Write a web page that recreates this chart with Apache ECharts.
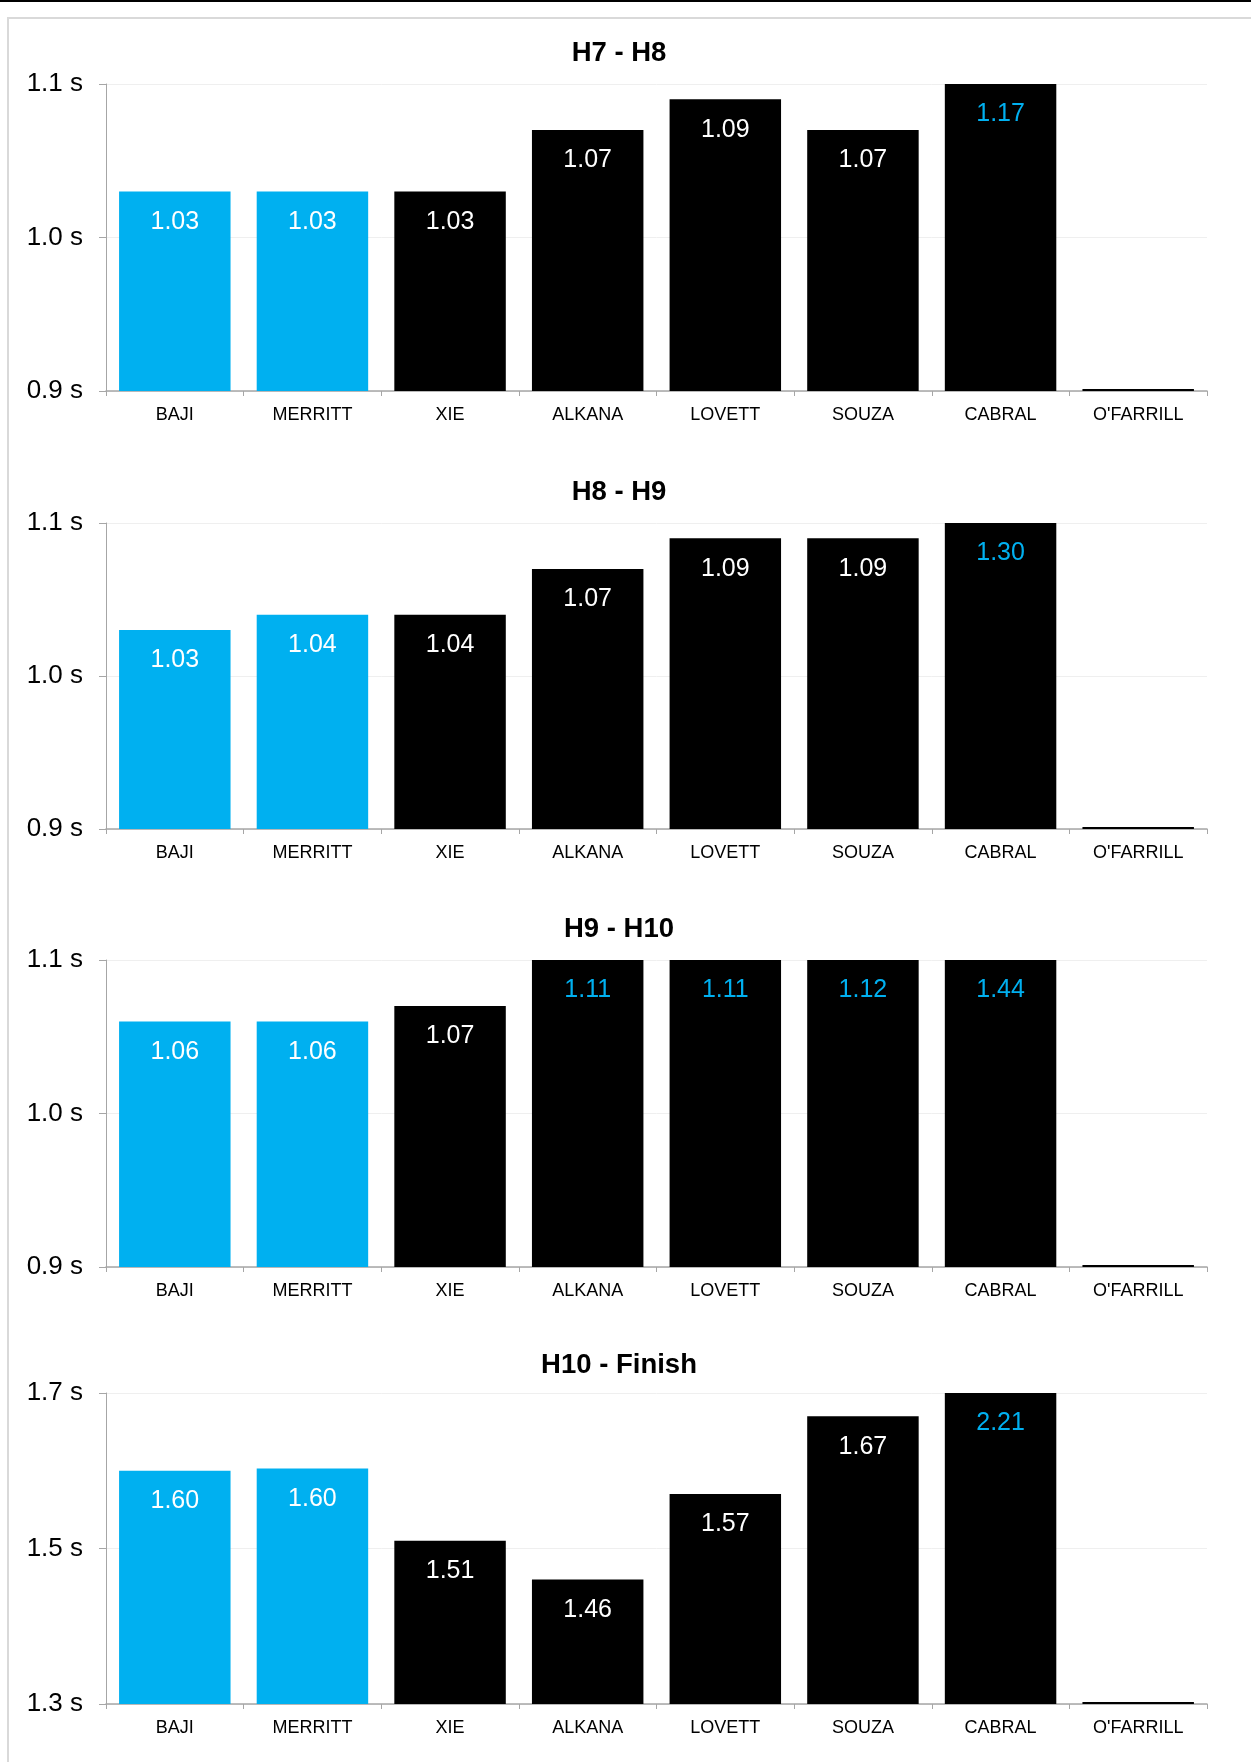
<!DOCTYPE html>
<html>
<head>
<meta charset="utf-8">
<title>Hurdle splits</title>
<script src="https://cdn.jsdelivr.net/npm/echarts@6/dist/echarts.min.js"></script>
<style>
  html, body { margin: 0; padding: 0; background: #fff; }
  #chart { width: 1251px; height: 1762px; }
</style>
</head>
<body>
<div id="chart"></div>
<script>
var athletes = ['BAJI', 'MERRITT', 'XIE', 'ALKANA', 'LOVETT', 'SOUZA', 'CABRAL', "O'FARRILL"];
var highlighted = ['BAJI', 'MERRITT'];

var panelTitles = ['H7 - H8', 'H8 - H9', 'H9 - H10', 'H10 - Finish'];
var splitH7H8 = [1.03, 1.03, 1.03, 1.07, 1.09, 1.07, 1.17, 0];
var splitH8H9 = [1.03, 1.04, 1.04, 1.07, 1.09, 1.09, 1.30, 0];
var splitH9H10 = [1.06, 1.06, 1.07, 1.11, 1.11, 1.12, 1.44, 0];
var splitH10Fin = [1.60, 1.603, 1.51, 1.46, 1.57, 1.67, 2.21, 0];

var axisMins = [0.9, 0.9, 0.9, 1.3];
var axisMaxs = [1.1, 1.1, 1.1, 1.7];
var axisSteps = [0.1, 0.1, 0.1, 0.2];

var splits = [splitH7H8, splitH8H9, splitH9H10, splitH10Fin];

var CYAN = '#00b0f0';
var FONT = '"Liberation Sans", Arial, sans-serif';

// panel placement
var gridTops = [84, 523, 960, 1393];
var gridHeights = [307, 306, 307, 311];
var titleTops = [34, 473, 910, 1346];

var titles = [], grids = [], xAxes = [], yAxes = [], series = [];

panelTitles.forEach(function (name, i) {
    var lo = axisMins[i], hi = axisMaxs[i];
    titles.push({
        text: name,
        left: 614,
        top: titleTops[i],
        textAlign: 'center',
        textStyle: { fontFamily: FONT, fontSize: 27.5, fontWeight: 'bold', color: '#000' }
    });
    grids.push({ left: 106, width: 1101, top: gridTops[i], height: gridHeights[i] });
    xAxes.push({
        type: 'category',
        gridIndex: i,
        data: athletes,
        axisLine: { lineStyle: { color: '#a6a6a6', width: 1.5 } },
        axisTick: { show: true, length: 5, lineStyle: { color: '#a6a6a6' } },
        axisLabel: { fontFamily: FONT, fontSize: 18, color: '#000', margin: 15, interval: 0 }
    });
    yAxes.push({
        type: 'value',
        gridIndex: i,
        min: lo,
        max: hi,
        interval: axisSteps[i],
        startValue: lo,
        axisLine: { show: true, lineStyle: { color: '#a6a6a6', width: 1 } },
        axisTick: { show: true, length: 7, lineStyle: { color: '#a6a6a6' } },
        splitLine: { lineStyle: { color: '#efefef' } },
        axisLabel: {
            fontFamily: FONT, fontSize: 26, color: '#000', margin: 23,
            padding: [8, 0, 0, 0],
            formatter: function (v) { return v.toFixed(1) + ' s'; }
        }
    });
    series.push({
        type: 'bar',
        xAxisIndex: i,
        yAxisIndex: i,
        barCategoryGap: '19%',
        barMinHeight: 2,
        data: splits[i].map(function (v, k) {
            var shown = Math.min(Math.max(v, lo), hi);
            return {
                value: shown,
                raw: v,
                itemStyle: { color: highlighted.indexOf(athletes[k]) >= 0 ? CYAN : '#000' },
                label: { show: v > 0, color: v > hi ? CYAN : '#fff' }
            };
        }),
        label: {
            position: 'insideTop',
            distance: 18,
            fontFamily: FONT,
            fontSize: 25,
            formatter: function (p) { return p.data.raw.toFixed(2); }
        }
    });
});

var option = {
    animation: false,
    backgroundColor: '#fff',
    title: titles,
    grid: grids,
    xAxis: xAxes,
    yAxis: yAxes,
    series: series,
    graphic: [
        { type: 'rect', shape: { x: 0, y: 0, width: 1251, height: 2 }, style: { fill: '#000' } },
        { type: 'rect', shape: { x: 8, y: 18, width: 1400, height: 1900 }, style: { fill: 'none', stroke: '#d9d9d9', lineWidth: 2 } }
    ]
};

var myChart = echarts.init(document.getElementById('chart'));
myChart.setOption(option);
</script>
</body>
</html>
